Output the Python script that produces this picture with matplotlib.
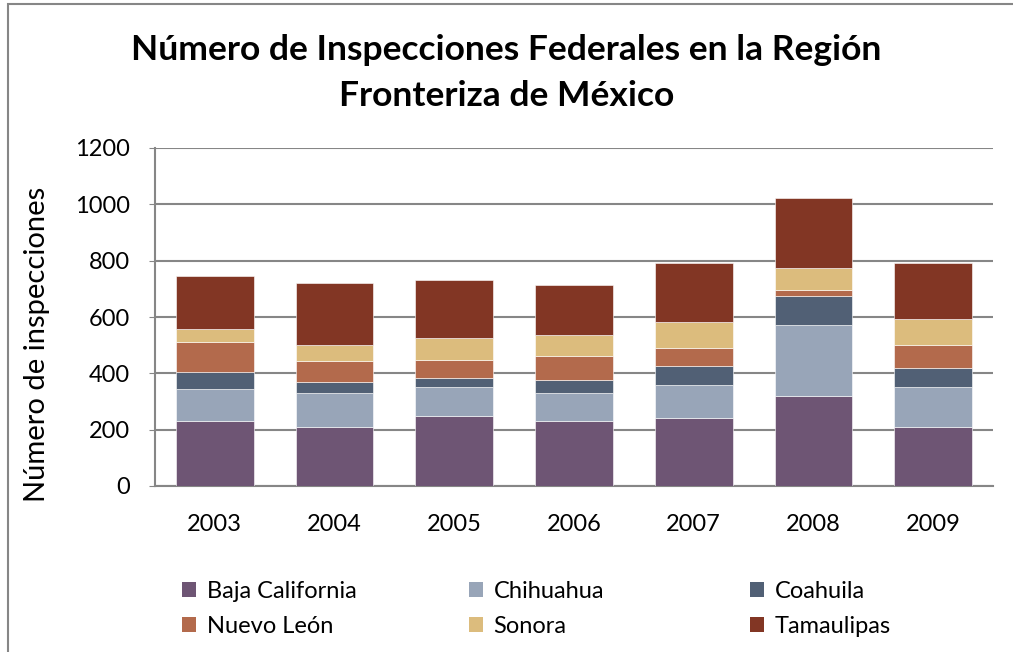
import numpy as np
import matplotlib
matplotlib.use("Agg")
import matplotlib.pyplot as plt
from matplotlib.patches import Rectangle, Patch

plt.rcParams["font.family"] = ["Lato", "DejaVu Sans"]

years = ["2003", "2004", "2005", "2006", "2007", "2008", "2009"]
states = ["Baja California", "Chihuahua", "Coahuila", "Nuevo León", "Sonora", "Tamaulipas"]

baja_california = [229, 208, 250, 229, 243, 320, 208]
chihuahua = [114, 121, 100, 100, 114, 250, 142]
coahuila = [62, 40, 33, 47, 69, 104, 69]
nuevo_leon = [108, 74, 65, 85, 65, 21, 80]
sonora = [43, 57, 78, 74, 93, 80, 93]
tamaulipas = [191, 220, 207, 177, 207, 249, 199]

series = [baja_california, chihuahua, coahuila, nuevo_leon, sonora, tamaulipas]
colors = ["#6E5574", "#98A5B8", "#516075", "#B36A4C", "#DCBC7D", "#823624"]

fig = plt.figure(figsize=(10.13, 6.52), dpi=100)
ax = fig.add_axes([155 / 1013, 1 - 486 / 652, 838 / 1013, 338 / 652])

x = np.arange(len(years))
bottom = np.zeros(len(years))
for vals, col, name in zip(series, colors, states):
    ax.bar(x, vals, width=0.65, bottom=bottom, color=col, label=name,
           edgecolor="white", linewidth=0.4, zorder=3)
    bottom += np.array(vals)

ax.set_xlim(-0.5, len(years) - 0.5)
ax.set_ylim(0, 1200)
ax.set_yticks(np.arange(0, 1201, 200))
ax.set_xticks(x)
ax.set_xticklabels(years)
ax.yaxis.grid(True, color="#868686", linewidth=1.5, zorder=0)
for side in ["top", "right"]:
    ax.spines[side].set_visible(False)
for side in ["left", "bottom"]:
    ax.spines[side].set_color("#868686")
    ax.spines[side].set_linewidth(1.5)
ax.tick_params(axis="y", length=4, color="#868686", labelsize=17, pad=14)
ax.tick_params(axis="x", length=0, labelsize=17, pad=20)
ax.set_ylabel("Número de inspecciones", fontsize=21)
ax.yaxis.set_label_coords(-105 / 838, 0.42)

fig.text(0.5, 1 - 73 / 652, "Número de Inspecciones Federales en la Región\nFronteriza de México",
         ha="center", va="center", fontsize=25.5, fontweight="bold", linespacing=1.55)

# legend laid out as three fixed-width columns
handles = [Patch(facecolor=c) for c in colors]
col_x = [170, 457, 738]
for i, cx in enumerate(col_x):
    idx = [i, i + 3]
    fig.legend([handles[j] for j in idx], [states[j] for j in idx],
               loc="upper left", bbox_to_anchor=(cx / 1013, 1 - 569 / 652),
               frameon=False, fontsize=17, handlelength=0.6, handleheight=0.6,
               handletextpad=0.45, labelspacing=0.6, borderpad=0)

fig.patches.append(Rectangle((8 / 1013, -0.1), 1.2, 1 - 4 / 652 + 0.1,
                             transform=fig.transFigure, fill=False,
                             edgecolor="#868686", linewidth=1.5))

fig.savefig("out.png", dpi=100)
